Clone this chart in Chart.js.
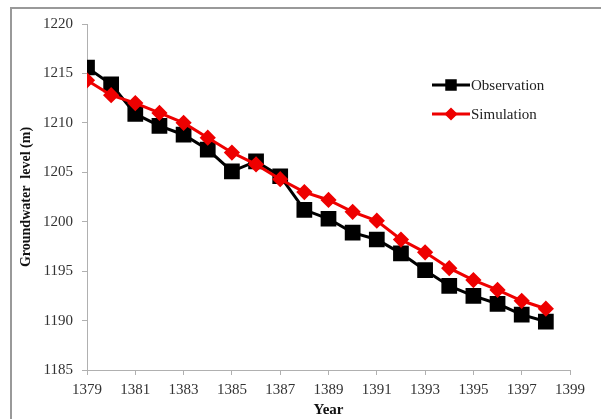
<!DOCTYPE html>
<html lang="en">
<head>
  <meta charset="UTF-8">
  <title>Groundwater level</title>
  <script src="https://cdn.jsdelivr.net/npm/chart.js"></script>
  <style>
    body {
      margin: 0;
      padding: 0;
      background: #ffffff;
    }
    .wrap {
      width: 601px;
      height: 419px;
      position: relative;
    }
  </style>
</head>
<body>
  <div class="wrap">
    <canvas id="chart" width="601" height="419"></canvas>
  </div>
  <script>
    // data
    const years = [1379, 1380, 1381, 1382, 1383, 1384, 1385, 1386, 1387, 1388,
                   1389, 1390, 1391, 1392, 1393, 1394, 1395, 1396, 1397, 1398];
    const observation = [1215.6, 1213.9, 1210.9, 1209.7, 1208.8, 1207.3, 1205.1, 1206.1, 1204.6, 1201.2,
                         1200.3, 1198.9, 1198.2, 1196.8, 1195.1, 1193.5, 1192.5, 1191.7, 1190.6, 1189.9];
    const simulation = [1214.3, 1212.8, 1212.0, 1211.0, 1210.0, 1208.5, 1207.0, 1205.8, 1204.3, 1203.0,
                        1202.2, 1201.0, 1200.1, 1198.2, 1196.9, 1195.3, 1194.1, 1193.1, 1192.0, 1191.2];
    const xTitle = 'Year';
    const yTitle = 'Groundwater  level (m)';

    const serif = "'Liberation Serif', 'Times New Roman', serif";
    const axisGray = '#b0b0b0';

    // frame around the figure (left and top edges are visible in the picture)
    const framePlugin = {
      id: 'frame',
      beforeDraw(chart) {
        const ctx = chart.ctx;
        ctx.save();
        ctx.fillStyle = '#ffffff';
        ctx.fillRect(0, 0, chart.width, chart.height);
        ctx.strokeStyle = '#999999';
        ctx.lineWidth = 2;
        ctx.beginPath();
        ctx.moveTo(11, chart.height);
        ctx.lineTo(11, 8);
        ctx.lineTo(chart.width, 8);
        ctx.stroke();
        ctx.restore();
      }
    };

    // legend drawn inside the plot, top right
    const insideLegend = {
      id: 'insideLegend',
      afterDraw(chart) {
        const ctx = chart.ctx;
        const items = [
          { ds: chart.data.datasets[1], y: 85 },
          { ds: chart.data.datasets[0], y: 114 }
        ];
        ctx.save();
        items.forEach(item => {
          const ds = item.ds;
          ctx.strokeStyle = ds.borderColor;
          ctx.lineWidth = ds.borderWidth;
          ctx.beginPath();
          ctx.moveTo(432, item.y);
          ctx.lineTo(470, item.y);
          ctx.stroke();
          Chart.helpers.drawPoint(ctx, {
            pointStyle: ds.pointStyle,
            radius: ds.pointStyle === 'rect' ? 6 : 4.5,
            borderWidth: 1
          }, 451, item.y);
          ctx.fillStyle = ds.pointBackgroundColor;
          ctx.fill();
          ctx.fillStyle = '#222';
          ctx.font = '15px ' + serif;
          ctx.textBaseline = 'middle';
          ctx.fillText(ds.label, 471, item.y + 1);
        });
        ctx.restore();
      }
    };

    const ctx = document.getElementById('chart').getContext('2d');
    const chart = new Chart(ctx, {
      type: 'line',
      data: {
        datasets: [
          {
            label: 'Simulation',
            data: years.map((y, i) => ({ x: y, y: simulation[i] })),
            borderColor: 'rgb(238, 0, 0)',
            backgroundColor: 'rgb(238, 0, 0)',
            pointBackgroundColor: 'rgb(238, 0, 0)',
            pointBorderColor: 'rgb(238, 0, 0)',
            pointStyle: 'rectRot',
            pointRadius: 6,
            borderWidth: 3,
            order: 0
          },
          {
            label: 'Observation',
            data: years.map((y, i) => ({ x: y, y: observation[i] })),
            borderColor: '#000000',
            backgroundColor: '#000000',
            pointBackgroundColor: '#000000',
            pointBorderColor: '#000000',
            pointStyle: 'rect',
            pointRadius: 9,
            borderWidth: 3,
            order: 1
          }
        ]
      },
      options: {
        responsive: false,
        animation: false,
        layout: {
          padding: { left: 12, top: 24, right: 31, bottom: 0 }
        },
        plugins: {
          legend: { display: false },
          tooltip: { enabled: false }
        },
        scales: {
          x: {
            type: 'linear',
            min: 1379,
            max: 1399,
            afterFit(scale) { scale.height = 49; },
            ticks: {
              stepSize: 2,
              padding: 6,
              color: '#333',
              font: { family: serif, size: 15 },
              callback: v => String(v)
            },
            grid: {
              drawOnChartArea: false,
              color: axisGray,
              tickLength: 5
            },
            border: { color: axisGray, width: 1 },
            title: {
              display: true,
              text: xTitle,
              color: '#111',
              padding: { top: 1, bottom: 0 },
              font: { family: serif, size: 15, weight: 'bold' }
            }
          },
          y: {
            min: 1185,
            max: 1220,
            afterFit(scale) { scale.width = 75; },
            ticks: {
              stepSize: 5,
              padding: 9,
              color: '#333',
              font: { family: serif, size: 15 },
              callback: v => String(v)
            },
            grid: {
              drawOnChartArea: false,
              color: axisGray,
              tickLength: 5
            },
            border: { color: axisGray, width: 1 },
            title: {
              display: true,
              text: yTitle,
              color: '#111',
              padding: { top: 6, bottom: 0 },
              font: { family: serif, size: 14, weight: 'bold' }
            }
          }
        }
      },
      plugins: [framePlugin, insideLegend]
    });
  </script>
</body>
</html>
